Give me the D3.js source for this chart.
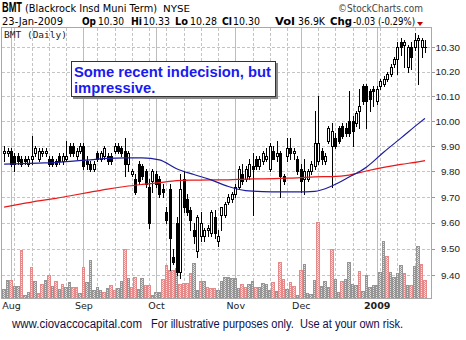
<!DOCTYPE html>
<html><head><meta charset="utf-8">
<script src="https://cdn.jsdelivr.net/npm/d3@7"></script>
<style>body{margin:0;background:#fff}svg{display:block}text{white-space:pre}</style>
</head><body>
<svg id="c" width="466" height="340"></svg>
<script>
// ---- data (Jul 30 2008 .. Jan 23 2009, daily) ----
const lastDate = "23-Jan-2009";
const opens = [9.87,9.87,9.88,9.86,9.86,9.85,9.85,9.83,9.85,9.87,
9.85,9.87,9.87,9.85,9.85,9.84,9.86,9.84,9.85,9.90,
9.90,9.86,9.88,9.90,9.84,9.83,9.81,9.87,9.85,9.86,
9.86,9.86,9.88,9.90,9.89,9.88,9.83,9.79,9.77,9.83,
9.82,9.80,9.74,9.76,9.79,9.77,9.73,9.64,9.73,9.47,
9.60,9.41,9.77,9.69,9.65,9.57,9.49,9.55,9.55,9.57,
9.56,9.62,9.53,9.63,9.63,9.68,9.69,9.71,9.74,9.79,
9.77,9.78,9.82,9.85,9.82,9.84,9.85,9.81,9.88,9.86,
9.87,9.78,9.86,9.89,9.87,9.85,9.81,9.77,9.77,9.80,
9.82,9.84,9.88,9.84,9.92,9.90,9.93,9.97,9.98,9.97,
10.00,10.00,9.99,10.04,10.14,10.14,10.12,10.13,10.08,10.14,
10.15,10.17,10.19,10.23,10.25,10.32,10.31,10.22,10.30,10.30,
10.33,10.30,10.30];
const highs = [9.90,9.89,9.89,9.87,9.87,9.86,9.86,9.86,9.94,9.90,
9.89,9.89,9.89,9.86,9.86,9.85,9.87,9.87,9.92,9.91,
9.91,9.89,9.91,9.91,9.86,9.84,9.84,9.88,9.88,9.90,
9.87,9.87,9.91,9.91,9.90,9.93,9.88,9.81,9.79,9.84,
9.83,9.81,9.77,9.81,9.80,9.78,9.75,9.66,9.75,9.50,
9.62,9.79,9.80,9.71,9.66,9.60,9.63,9.64,9.58,9.59,
9.65,9.65,9.57,9.66,9.68,9.71,9.72,9.75,9.82,9.83,
9.82,9.85,9.87,9.86,9.86,9.88,9.89,9.91,9.90,9.92,
9.88,9.79,9.93,9.93,9.89,9.86,9.83,9.85,9.81,9.84,
10.04,10.10,9.89,9.87,9.98,9.99,9.95,9.98,9.99,9.99,
10.12,10.02,10.04,10.13,10.15,10.15,10.13,10.14,10.14,10.17,
10.18,10.20,10.23,10.26,10.32,10.34,10.33,10.31,10.32,10.36,
10.35,10.34,10.33];
const lows = [9.84,9.86,9.82,9.80,9.83,9.82,9.83,9.82,9.83,9.86,
9.84,9.86,9.86,9.82,9.82,9.82,9.83,9.83,9.84,9.86,
9.86,9.85,9.87,9.81,9.81,9.80,9.80,9.84,9.84,9.85,
9.83,9.83,9.87,9.87,9.86,9.78,9.80,9.78,9.71,9.75,
9.77,9.74,9.58,9.72,9.74,9.70,9.70,9.60,9.42,9.44,
9.40,9.39,9.64,9.63,9.57,9.52,9.47,9.53,9.53,9.55,
9.55,9.54,9.51,9.57,9.62,9.67,9.68,9.70,9.73,9.75,
9.76,9.77,9.63,9.81,9.81,9.83,9.84,9.80,9.85,9.84,
9.70,9.75,9.84,9.85,9.85,9.79,9.72,9.71,9.76,9.79,
9.81,9.83,9.83,9.83,9.91,9.74,9.89,9.91,9.93,9.94,
9.94,9.90,9.98,9.97,10.07,9.97,10.04,10.06,10.07,10.13,
10.14,10.16,10.18,10.22,10.19,10.27,10.22,10.20,10.21,10.29,
10.15,10.26,10.28];
const closes = [9.88,9.88,9.83,9.83,9.84,9.83,9.84,9.85,9.86,9.89,
9.88,9.88,9.88,9.83,9.83,9.83,9.84,9.86,9.86,9.87,
9.87,9.88,9.90,9.82,9.83,9.81,9.83,9.85,9.87,9.89,
9.84,9.84,9.90,9.88,9.87,9.83,9.87,9.80,9.72,9.76,
9.78,9.75,9.60,9.80,9.75,9.71,9.72,9.61,9.54,9.45,
9.41,9.73,9.66,9.64,9.61,9.55,9.62,9.60,9.57,9.58,
9.64,9.56,9.55,9.66,9.67,9.70,9.71,9.74,9.81,9.76,
9.81,9.83,9.81,9.82,9.85,9.87,9.86,9.90,9.85,9.87,
9.78,9.76,9.89,9.87,9.88,9.80,9.76,9.80,9.80,9.83,
9.91,9.91,9.85,9.86,9.97,9.96,9.90,9.92,9.94,9.95,
9.95,9.96,10.03,10.06,10.08,10.08,10.09,10.12,10.13,10.16,
10.17,10.19,10.22,10.25,10.30,10.30,10.32,10.30,10.26,10.33,
10.34,10.33,10.30];
// volume in thousands of shares
const volumes = [18,37,36,25,24,98,7,12,64,35,
10,29,37,47,25,35,18,29,23,33,
23,22,10,63,32,78,17,23,17,13,
21,27,17,20,35,101,42,23,43,18,
41,27,27,7,12,13,39,68,58,57,
62,29,31,31,51,72,17,34,35,23,
21,20,17,35,43,44,41,41,21,29,
23,29,35,23,22,31,29,16,33,14,
74,39,18,33,25,6,57,70,10,8,
37,155,24,34,23,100,39,12,34,39,
74,29,27,55,15,47,23,27,27,53,
117,86,53,43,51,68,51,27,27,66,
107,70,36.9];
// 1 = down day (red volume bar)
const volDown = [0,0,1,0,0,1,0,0,1,0,
1,1,0,1,0,1,0,1,0,0,
1,1,0,1,0,0,0,0,0,1,
0,1,1,0,0,1,0,1,1,0,
0,1,1,0,0,0,1,1,1,1,
0,1,1,1,1,0,0,1,0,1,
1,1,0,0,0,0,0,0,0,1,
1,0,0,1,0,0,0,0,1,0,
1,1,0,1,1,0,1,0,0,0,
0,1,0,0,0,1,0,0,1,0,
0,0,0,1,0,0,0,0,0,0,
0,1,0,0,0,0,1,0,1,0,
0,1,1];
// moving averages read at every 5th bar
const maIndex = [0,5,10,15,20,25,30,35,40,45,50,55,60,65,70,75,80,85,90,95,100,105,110,115,120,122];
const ma50 = [9.828,9.830,9.832,9.834,9.840,9.845,9.851,9.853,9.853,9.845,9.810,9.787,9.766,9.740,9.724,9.720,9.719,9.719,9.721,9.742,9.777,9.816,9.875,9.931,9.988,10.010];
const ma200 = [9.660,9.672,9.684,9.694,9.706,9.718,9.730,9.740,9.748,9.755,9.763,9.765,9.766,9.766,9.769,9.770,9.772,9.774,9.778,9.779,9.785,9.801,9.815,9.827,9.837,9.842];
const priceTicks = [10.30,10.20,10.10,10.00,9.90,9.80,9.70,9.60,9.50,9.40];
const monthStarts = [2,23,44,67,86,108];
const monthLabels = ["Aug","Sep","Oct","Nov","Dec","2009"];
const weekStarts = [3,8,13,18,27,32,37,42,47,52,57,62,72,77,82,91,96,101,105,109,114,119];

// ---- drawing ----
const svg = d3.select('#c');
const P = {l:2, r:431, t:28, b:298};
const n = closes.length;
const x = d3.scaleLinear().domain([0, n-1]).range([4.1, 425]);
const y = d3.scaleLog().domain([9.40, 10.30]).range([275, 47.3]);
const yv = d3.scaleLinear().domain([0, 160]).range([P.b, 220]);

svg.append('rect').attr('width',466).attr('height',340).attr('fill','#fff');
const defs = svg.append('defs');
function pat(id,bg,dot){
  const p = defs.append('pattern').attr('id',id).attr('patternUnits','userSpaceOnUse').attr('width',2).attr('height',2);
  p.append('rect').attr('width',2).attr('height',2).attr('fill',bg);
  p.append('rect').attr('width',1).attr('height',1).attr('fill',dot);
  p.append('rect').attr('x',1).attr('y',1).attr('width',1).attr('height',1).attr('fill',dot);
}
pat('pinkP','#fde2e2','#ea8c8c');
pat('grayP','#e0e0e0','#959595');
defs.append('clipPath').attr('id','clip').append('rect')
  .attr('x',P.l).attr('y',P.t).attr('width',P.r-P.l).attr('height',P.b-P.t);

const grid = svg.append('g').attr('shape-rendering','crispEdges');
grid.selectAll('line.h').data(priceTicks).join('line')
  .attr('x1',P.l).attr('x2',P.r)
  .attr('y1',d=>Math.round(y(d))+0.5).attr('y2',d=>Math.round(y(d))+0.5)
  .attr('stroke','#c4c4c4').attr('stroke-dasharray','3,2');
grid.selectAll('line.w').data(weekStarts).join('line')
  .attr('x1',d=>Math.round(x(d))+0.5).attr('x2',d=>Math.round(x(d))+0.5)
  .attr('y1',P.t).attr('y2',P.b)
  .attr('stroke','#c4c4c4').attr('stroke-dasharray','3,2');
grid.selectAll('line.m').data(monthStarts).join('line')
  .attr('x1',d=>Math.round(x(d))+0.5).attr('x2',d=>Math.round(x(d))+0.5)
  .attr('y1',P.t).attr('y2',P.b)
  .attr('stroke','#bcbcbc');

const plot = svg.append('g').attr('clip-path','url(#clip)');

// volume
const vg = plot.append('g').attr('shape-rendering','crispEdges');
volumes.forEach((v,i)=>{
  const x0 = Math.round(x(i)-1.725), x1 = Math.round(x(i)+1.725);
  const top = Math.round(yv(v));
  vg.append('rect').attr('x',x0+0.5).attr('y',top+0.5)
    .attr('width',Math.max(x1-x0-1,1)).attr('height',Math.max(P.b-top-0.5,0.5))
    .attr('fill',volDown[i]?'url(#pinkP)':'url(#grayP)')
    .attr('stroke',volDown[i]?'#e58a8a':'#959595').attr('stroke-width',1);
});

// candles
const cg = plot.append('g').attr('shape-rendering','crispEdges');
closes.forEach((c,i)=>{
  const o = opens[i], h = highs[i], l = lows[i];
  const cx = Math.round(x(i));
  cg.append('line').attr('x1',cx+0.5).attr('x2',cx+0.5)
    .attr('y1',Math.round(y(h))).attr('y2',Math.round(y(l))+1).attr('stroke','#000');
  const yt = Math.round(y(Math.max(o,c))), yb = Math.round(y(Math.min(o,c)));
  if (o === c) {
    cg.append('line').attr('x1',cx-1).attr('x2',cx+2).attr('y1',yt+0.5).attr('y2',yt+0.5).attr('stroke','#000');
  } else if (c > o) {
    cg.append('rect').attr('x',cx-0.5).attr('y',yt+0.5).attr('width',2).attr('height',Math.max(yb-yt,1))
      .attr('fill','#fff').attr('stroke','#000');
  } else {
    cg.append('rect').attr('x',cx-1).attr('y',yt).attr('width',3).attr('height',Math.max(yb-yt,1)+1).attr('fill','#000');
  }
});

// moving averages
const maLine = arr => d3.line().x((d,k)=>x(maIndex[k])).y(d=>y(d)).curve(d3.curveMonotoneX)(arr);
plot.append('path').attr('d',maLine(ma200)).attr('fill','none').attr('stroke','#e81818').attr('stroke-width',1.2);
plot.append('path').attr('d',maLine(ma50)).attr('fill','none').attr('stroke','#1c1c9c').attr('stroke-width',1.2);

// frame
svg.append('rect').attr('x',P.l-0.5).attr('y',P.t-0.5).attr('width',P.r-P.l+1).attr('height',P.b-P.t+1)
  .attr('fill','none').attr('stroke','#a8a8a8').attr('shape-rendering','crispEdges');

// right price axis
const ax = svg.append('g').attr('transform',`translate(${P.r+0.5},0)`)
  .call(d3.axisRight(y).tickValues(priceTicks).tickFormat(d=>d.toFixed(2)).tickSize(3).tickPadding(2));
ax.select('.domain').remove();
ax.selectAll('line').attr('stroke','#999').attr('shape-rendering','crispEdges');
ax.selectAll('text').attr('text-anchor','end').attr('x',28.5).attr('dy','0.34em')
  .attr('font-family','Liberation Sans, Arial, sans-serif').attr('font-size',9.8).attr('fill','#222');

// bottom month axis
const bx = svg.append('g').attr('transform',`translate(0,${P.b})`)
  .call(d3.axisBottom(x).tickValues(monthStarts).tickFormat((d,k)=>monthLabels[k]).tickSize(0).tickPadding(0));
bx.select('.domain').remove();
bx.selectAll('text').attr('y',11).attr('dy',0)
  .attr('font-family','DejaVu Sans, sans-serif').attr('font-size',9.5).attr('fill','#222')
  .attr('font-weight',(d,k)=>monthLabels[k]==='2009'?'bold':'normal');

// texts
function T(xp,yp,s,o={}){
  const t = svg.append('text').attr('x',xp).attr('y',yp).text(s)
    .attr('font-family',o.f||'DejaVu Sans, sans-serif').attr('font-size',o.s||10)
    .attr('font-weight',o.w||'normal').attr('fill',o.c||'#000');
  if (o.len) t.attr('textLength',o.len).attr('lengthAdjust','spacingAndGlyphs');
  if (o.a) t.attr('text-anchor',o.a);
  return t;
}
const L = n-1;
const chg = closes[L]-closes[L-1];
const pct = chg/closes[L-1]*100;
// condensed bold ticker symbol
svg.append('g').attr('transform','translate(2,12) scale(0.66,1)')
  .append('text').attr('x',0).attr('y',0).text('BMT')
  .attr('font-family','Liberation Sans, Arial').attr('font-size',14).attr('font-weight','bold').attr('fill','#000');
T(25,12,'(Blackrock Insd Muni Term)',{s:10,len:132});
T(163,12,'NYSE',{s:9.5,len:27});
T(338,12,'\u00A9StockCharts.com',{s:10,len:85,c:'#444'});
T(2,25,lastDate,{s:10,len:61});
T(82,25,'Op',{w:'bold',s:10,len:14});
T(98,25,opens[L].toFixed(2),{s:10,len:26});
T(131,25,'Hi',{w:'bold',s:10,len:11});
T(143,25,highs[L].toFixed(2),{s:10,len:27});
T(175,25,'Lo',{w:'bold',s:10,len:13});
T(190,25,lows[L].toFixed(2),{s:10,len:27});
T(222,25,'Cl',{w:'bold',s:10,len:10});
T(233,25,closes[L].toFixed(2),{s:10,len:27});
T(275,25,'Vol',{w:'bold',s:10,len:20});
T(298,25,volumes[L].toFixed(1)+'K',{s:10,len:27});
T(330,25,'Chg',{w:'bold',s:10,len:22});
T(353,25,chg.toFixed(2)+' ('+pct.toFixed(2)+'%)',{s:10,len:62});
svg.append('path').attr('d','M417,22L423,22L420,26Z').attr('fill','#c00000');
T(4,37.5,'BMT (Daily)',{f:'DejaVu Sans Mono, monospace',s:9.5,len:63,c:'#222'});

// annotation box
svg.append('rect').attr('x',73).attr('y',63).attr('width',205).attr('height',36).attr('fill','#888');
svg.append('rect').attr('x',71.5).attr('y',61.5).attr('width',204).attr('height',35)
  .attr('fill','#fff').attr('stroke','#333').attr('shape-rendering','crispEdges');
T(74,76.5,'Some recent indecision, but',{f:'Liberation Sans, Arial',s:14.8,w:'bold',c:'#1a1aee',len:197});
T(74,93,'impressive.',{f:'Liberation Sans, Arial',s:14.8,w:'bold',c:'#1a1aee'});

// footer
T(12,327.5,'www.ciovaccocapital.com',{f:'Liberation Sans, Arial',s:12,c:'#10104a',len:130});
T(151,327.5,'For illustrative purposes only.  Use at your own risk.',{f:'Liberation Sans, Arial',s:12,c:'#10104a',len:252});
</script>
</body></html>
